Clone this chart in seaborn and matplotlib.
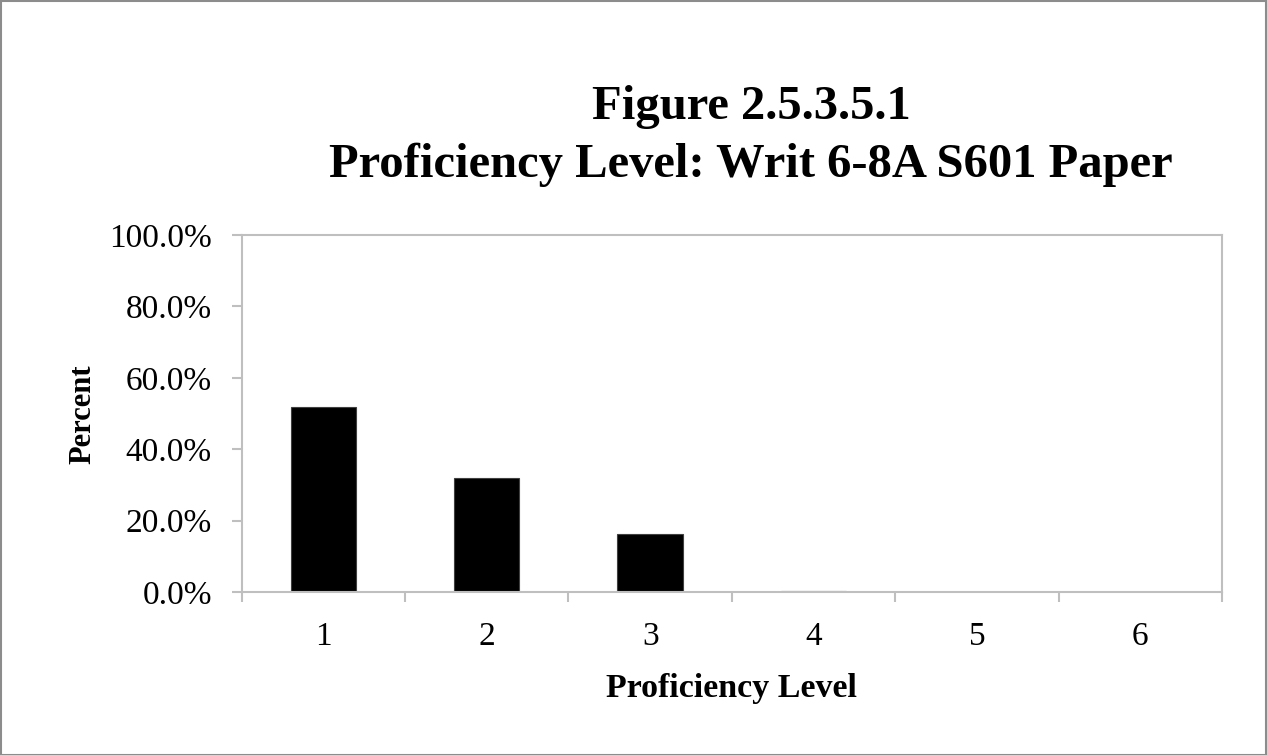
import matplotlib
matplotlib.use("Agg")
import matplotlib.pyplot as plt
import seaborn as sns
import pandas as pd
from matplotlib.ticker import PercentFormatter, FixedLocator
from matplotlib.patches import Rectangle

# Share of students at each proficiency level
levels = ["1", "2", "3", "4", "5", "6"]
percent = [0.517, 0.318, 0.162, 0.003, 0.0, 0.0]

title_lines = ["Figure 2.5.3.5.1", "Proficiency Level: Writ 6-8A S601 Paper"]
x_label = "Proficiency Level"
y_label = "Percent"

sns.set_theme(style="white")
plt.rcParams["font.family"] = ["Liberation Serif", "DejaVu Serif"]
plt.rcParams["text.color"] = "black"

df = pd.DataFrame({"level": levels, "percent": percent})

W, H = 1267, 755
fig = plt.figure(figsize=(W / 100, H / 100), dpi=100)
ax = fig.add_axes([241.7 / W, 1 - 592 / H, (1222 - 241.7) / W, (592 - 235) / H])

sns.barplot(data=df, x="level", y="percent", order=levels, color="black",
            width=0.4, edgecolor="#404040", linewidth=0.8, saturation=1, ax=ax)

axis_gray = "#BFBFBF"
for s in ax.spines.values():
    s.set_color(axis_gray)
    s.set_linewidth(1.5)

ax.set_ylim(0, 1)
ax.set_xlim(-0.5, len(levels) - 0.5)
ax.yaxis.set_major_locator(FixedLocator([0, 0.2, 0.4, 0.6, 0.8, 1.0]))
ax.yaxis.set_major_formatter(PercentFormatter(1, decimals=1))

# Category boundaries carry the ticks; labels sit at category centres
ax.set_xticks([i - 0.5 for i in range(len(levels) + 1)])
ax.set_xticklabels([])
ax.set_xticks(range(len(levels)), minor=True)
ax.set_xticklabels(levels, minor=True)

ax.tick_params(axis="y", which="major", direction="out", length=7, width=1.5,
               color=axis_gray, labelsize=24, pad=14.4, left=True,
               labelcolor="black")
ax.tick_params(axis="x", which="major", direction="out", length=7, width=1.5,
               color=axis_gray, bottom=True)
ax.tick_params(axis="x", which="minor", length=0, labelsize=24, pad=21.5,
               labelcolor="black")

ax.set_xlabel("")
ax.set_ylabel("")
ax.grid(False)

fig.text(732 / W, 1 - 697 / H, x_label, ha="center", va="baseline",
         fontsize=24.5, fontweight="bold")
fig.text(83 / W, 1 - 414 / H, y_label, ha="center", va="center",
         rotation=90, fontsize=22, fontweight="bold")
fig.text(751 / W, 1 - 119 / H, title_lines[0], ha="center", va="baseline",
         fontsize=35, fontweight="bold")
fig.text(751 / W, 1 - 177 / H, title_lines[1], ha="center", va="baseline",
         fontsize=35, fontweight="bold")

fig.patches.append(Rectangle((0.5 / W, 0.5 / H), 1 - 1.5 / W, 1 - 1.5 / H,
                             transform=fig.transFigure, fill=False,
                             edgecolor="#8C8C8C", linewidth=1.5))

fig.savefig("out.png", dpi=100)
